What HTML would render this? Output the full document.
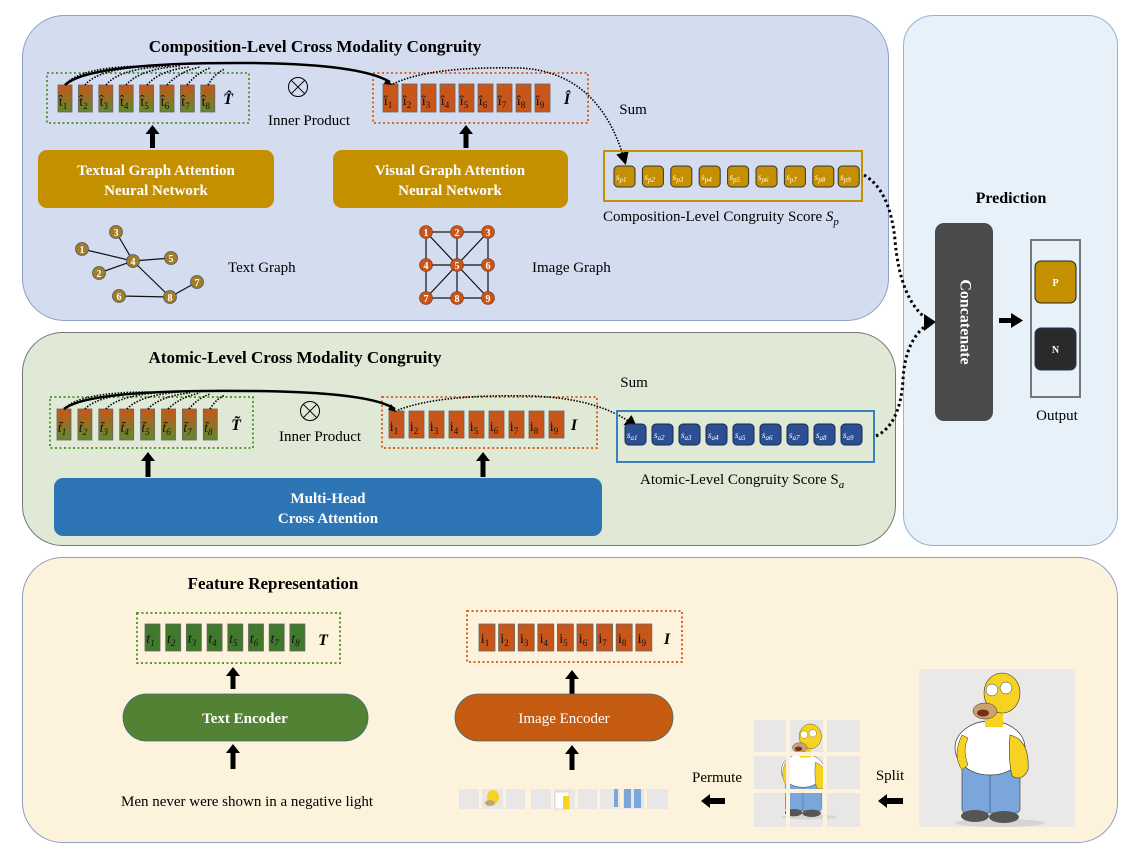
<!DOCTYPE html>
<html><head><meta charset="utf-8"><style>
html,body{margin:0;padding:0;background:#fff;}
svg{display:block;}
text{font-family:"Liberation Serif",serif;}
</style></head><body>
<svg width="1140" height="861" viewBox="0 0 1140 861" xmlns="http://www.w3.org/2000/svg">
<defs>
<linearGradient id="tg" x1="0" y1="0" x2="0" y2="1"><stop offset="0" stop-color="#c8561a"/><stop offset="1" stop-color="#5f8a2e"/></linearGradient>
<marker id="ah" markerWidth="8" markerHeight="8" refX="6" refY="4" orient="auto"><path d="M0,0 L8,4 L0,8 z" fill="#000"/></marker>
<marker id="ah2" markerWidth="12" markerHeight="12" refX="9" refY="6" orient="auto"><path d="M0,0 L12,6 L0,12 z" fill="#000"/></marker>
<g id="homer">
  <ellipse cx="1000" cy="823" rx="45" ry="4" fill="#d8d4d4"/>
  <rect x="962" y="765" width="58" height="48" rx="4" fill="#7aa6dc" stroke="#333" stroke-width="0.6"/>
  <line x1="990" y1="772" x2="990" y2="812" stroke="#4a6fa3" stroke-width="1"/>
  <ellipse cx="975" cy="816" rx="14" ry="6" fill="#555"/>
  <ellipse cx="1004" cy="817" rx="15" ry="6" fill="#555"/>
  <ellipse cx="990" cy="748" rx="35" ry="27" fill="#fff" stroke="#333" stroke-width="0.7"/>
  <path d="M1010,735 Q1030,740 1028,770 Q1022,782 1012,776 Q1008,760 1010,735 z" fill="#f6d322" stroke="#333" stroke-width="0.6"/>
  <path d="M962,735 Q952,755 962,770 L968,765 Q962,750 968,738 z" fill="#f6d322" stroke="#333" stroke-width="0.5"/>
  <rect x="985" y="705" width="18" height="22" fill="#f6d322"/>
  <ellipse cx="1002" cy="693" rx="18" ry="20" fill="#f6d322" stroke="#333" stroke-width="0.6"/>
  <ellipse cx="985" cy="711" rx="12" ry="8" fill="#c8a36c" stroke="#333" stroke-width="0.5"/>
  <ellipse cx="983" cy="713" rx="6" ry="3.5" fill="#7a2b1a"/>
  <circle cx="992" cy="690" r="6" fill="#fff" stroke="#333" stroke-width="0.5"/>
  <circle cx="1006" cy="688" r="6" fill="#fff" stroke="#333" stroke-width="0.5"/>
</g>
</defs>

<!-- Panels -->
<rect x="22.5" y="15.5" width="866" height="305" rx="42" fill="#d4dcef" stroke="#8fa0c4" stroke-width="1"/>
<rect x="903.5" y="15.5" width="214" height="530" rx="30" fill="#e6f1fa" stroke="#9ab3c9" stroke-width="1"/>
<rect x="22.5" y="332.5" width="873" height="213" rx="40" fill="#dfe9d6" stroke="#777" stroke-width="1"/>
<rect x="22.5" y="557.5" width="1095" height="285" rx="40" fill="#fdf3dc" stroke="#8fa0c4" stroke-width="1"/>

<!-- ===== TOP PANEL ===== -->
<text x="315" y="52" font-size="17" font-weight="bold" text-anchor="middle">Composition-Level Cross Modality Congruity</text>
<rect x="47" y="73" width="202" height="50" fill="none" stroke="#5a9a3a" stroke-width="2" stroke-dasharray="2 2.5"/>
<g stroke="#666" stroke-width="0.8" fill="url(#tg)">
<rect x="58" y="85" width="14" height="27"/><rect x="78.4" y="85" width="14" height="27"/><rect x="98.8" y="85" width="14" height="27"/><rect x="119.2" y="85" width="14" height="27"/><rect x="139.6" y="85" width="14" height="27"/><rect x="160" y="85" width="14" height="27"/><rect x="180.4" y="85" width="14" height="27"/><rect x="200.8" y="85" width="14" height="27"/>
</g>
<g font-size="14" fill="#111" text-anchor="middle">
<text x="63" y="106">t̂<tspan font-size="9" dy="3">1</tspan></text>
<text x="83.4" y="106">t̂<tspan font-size="9" dy="3">2</tspan></text>
<text x="103.8" y="106">t̂<tspan font-size="9" dy="3">3</tspan></text>
<text x="124.2" y="106">t̂<tspan font-size="9" dy="3">4</tspan></text>
<text x="144.6" y="106">t̂<tspan font-size="9" dy="3">5</tspan></text>
<text x="165" y="106">t̂<tspan font-size="9" dy="3">6</tspan></text>
<text x="185.4" y="106">t̂<tspan font-size="9" dy="3">7</tspan></text>
<text x="205.8" y="106">t̂<tspan font-size="9" dy="3">8</tspan></text>
</g>
<text x="228" y="104" font-size="16" font-weight="bold" font-style="italic" text-anchor="middle">T̂</text>

<circle cx="298" cy="87" r="9.5" fill="none" stroke="#000" stroke-width="1"/>
<path d="M291.3,80.3 L304.7,93.7 M304.7,80.3 L291.3,93.7" stroke="#000" stroke-width="1"/>
<text x="309" y="125" font-size="15" text-anchor="middle">Inner Product</text>

<rect x="373" y="73" width="215" height="50" fill="none" stroke="#d9662a" stroke-width="2" stroke-dasharray="2 2.5"/>
<g stroke="#666" stroke-width="0.8" fill="#c8561a">
<rect x="383" y="84" width="15" height="28"/><rect x="402" y="84" width="15" height="28"/><rect x="421" y="84" width="15" height="28"/><rect x="440" y="84" width="15" height="28"/><rect x="459" y="84" width="15" height="28"/><rect x="478" y="84" width="15" height="28"/><rect x="497" y="84" width="15" height="28"/><rect x="516" y="84" width="15" height="28"/><rect x="535" y="84" width="15" height="28"/>
</g>
<g font-size="14" fill="#111" text-anchor="middle">
<text x="388" y="105">î<tspan font-size="9" dy="3">1</tspan></text>
<text x="407" y="105">î<tspan font-size="9" dy="3">2</tspan></text>
<text x="426" y="105">î<tspan font-size="9" dy="3">3</tspan></text>
<text x="445" y="105">î<tspan font-size="9" dy="3">4</tspan></text>
<text x="464" y="105">î<tspan font-size="9" dy="3">5</tspan></text>
<text x="483" y="105">î<tspan font-size="9" dy="3">6</tspan></text>
<text x="502" y="105">î<tspan font-size="9" dy="3">7</tspan></text>
<text x="521" y="105">î<tspan font-size="9" dy="3">8</tspan></text>
<text x="540" y="105">î<tspan font-size="9" dy="3">9</tspan></text>
</g>
<text x="567" y="104" font-size="16" font-weight="bold" font-style="italic" text-anchor="middle">Î</text>

<!-- arcs top -->
<g fill="none" stroke="#000" stroke-width="1.6" stroke-dasharray="1.5 1.5">
<path d="M65,85 Q80,66 150,66"/><path d="M85,85 Q100,67 160,66"/><path d="M106,85 Q120,68 170,66"/><path d="M126,85 Q140,69 180,66"/><path d="M147,85 Q160,70 190,67"/><path d="M167,85 Q180,71 200,67"/><path d="M187,85 Q198,72 210,68"/><path d="M208,85 Q215,73 225,69"/>
<path d="M393,84 Q430,66 520,68 Q600,72 625,162" marker-end="url(#ah)"/>
</g>
<path d="M65,85 Q90,62 250,63 Q360,64 390,82" fill="none" stroke="#000" stroke-width="2.5"/>
<path d="M386,79 L393,85 L384,84 z" fill="#000"/>

<text x="633" y="114" font-size="15" text-anchor="middle">Sum</text>

<!-- arrows up -->
<g fill="#000">
<rect x="150" y="133" width="5" height="15"/><path d="M145.5,134 L152.5,125 L159.5,134 z"/>
<rect x="463.5" y="133" width="5" height="15"/><path d="M459,134 L466,125 L473,134 z"/>
</g>

<rect x="38" y="150" width="236" height="58" rx="9" fill="#c49000"/>
<text x="156" y="175" font-size="15" font-weight="bold" fill="#fff" text-anchor="middle">Textual Graph Attention</text>
<text x="156" y="195" font-size="15" font-weight="bold" fill="#fff" text-anchor="middle">Neural Network</text>
<rect x="333" y="150" width="235" height="58" rx="9" fill="#c49000"/>
<text x="450" y="175" font-size="15" font-weight="bold" fill="#fff" text-anchor="middle">Visual Graph Attention</text>
<text x="450" y="195" font-size="15" font-weight="bold" fill="#fff" text-anchor="middle">Neural Network</text>

<!-- text graph -->
<g stroke="#111" stroke-width="1.2">
<line x1="82" y1="249" x2="133" y2="261"/><line x1="116" y1="232" x2="133" y2="261"/><line x1="133" y1="261" x2="171" y2="258"/><line x1="99" y1="273" x2="133" y2="261"/><line x1="133" y1="261" x2="170" y2="297"/><line x1="119" y1="296" x2="170" y2="297"/><line x1="170" y1="297" x2="197" y2="282"/>
</g>
<g fill="#a07d28" stroke="#555" stroke-width="0.8">
<circle cx="82" cy="249" r="6.5"/><circle cx="116" cy="232" r="6.5"/><circle cx="133" cy="261" r="6.5"/><circle cx="171" cy="258" r="6.5"/><circle cx="99" cy="273" r="6.5"/><circle cx="119" cy="296" r="6.5"/><circle cx="170" cy="297" r="6.5"/><circle cx="197" cy="282" r="6.5"/>
</g>
<g font-size="10" fill="#fff" font-weight="bold" text-anchor="middle">
<text x="82" y="253">1</text><text x="116" y="236">3</text><text x="133" y="265">4</text><text x="171" y="262">5</text><text x="99" y="277">2</text><text x="119" y="300">6</text><text x="170" y="301">8</text><text x="197" y="286">7</text>
</g>
<text x="228" y="272" font-size="15">Text Graph</text>

<!-- image graph -->
<g stroke="#111" stroke-width="1.2" fill="none">
<rect x="426" y="232" width="62" height="66"/>
<line x1="457" y1="232" x2="457" y2="298"/><line x1="426" y1="265" x2="488" y2="265"/>
<line x1="426" y1="232" x2="488" y2="298"/><line x1="488" y1="232" x2="426" y2="298"/>
</g>
<g fill="#c8561a" stroke="#7a3010" stroke-width="0.6">
<circle cx="426" cy="232" r="6.5"/><circle cx="457" cy="232" r="6.5"/><circle cx="488" cy="232" r="6.5"/>
<circle cx="426" cy="265" r="6.5"/><circle cx="457" cy="265" r="6.5"/><circle cx="488" cy="265" r="6.5"/>
<circle cx="426" cy="298" r="6.5"/><circle cx="457" cy="298" r="6.5"/><circle cx="488" cy="298" r="6.5"/>
</g>
<g font-size="10" fill="#fff" font-weight="bold" text-anchor="middle">
<text x="426" y="236">1</text><text x="457" y="236">2</text><text x="488" y="236">3</text>
<text x="426" y="269">4</text><text x="457" y="269">5</text><text x="488" y="269">6</text>
<text x="426" y="302">7</text><text x="457" y="302">8</text><text x="488" y="302">9</text>
</g>
<text x="532" y="272" font-size="15">Image Graph</text>

<!-- composition score -->
<rect x="604" y="151" width="258" height="50" fill="none" stroke="#c49000" stroke-width="2"/>
<g fill="#c49000" stroke="#333" stroke-width="1">
<rect x="614" y="166" width="21" height="21" rx="4"/><rect x="642.4" y="166" width="21" height="21" rx="4"/><rect x="670.8" y="166" width="21" height="21" rx="4"/><rect x="699.2" y="166" width="21" height="21" rx="4"/><rect x="727.6" y="166" width="21" height="21" rx="4"/><rect x="756" y="166" width="21" height="21" rx="4"/><rect x="784.4" y="166" width="21" height="21" rx="4"/><rect x="812.8" y="166" width="21" height="21" rx="4"/><rect x="841.2" y="166" width="21" height="21" rx="4" transform="translate(-3,0)"/>
</g>
<g font-size="9" fill="#fff" font-style="italic">
<text x="616" y="180">s<tspan font-size="7" dy="2">p1</tspan></text>
<text x="644.4" y="180">s<tspan font-size="7" dy="2">p2</tspan></text>
<text x="672.8" y="180">s<tspan font-size="7" dy="2">p3</tspan></text>
<text x="701.2" y="180">s<tspan font-size="7" dy="2">p4</tspan></text>
<text x="729.6" y="180">s<tspan font-size="7" dy="2">p5</tspan></text>
<text x="758" y="180">s<tspan font-size="7" dy="2">p6</tspan></text>
<text x="786.4" y="180">s<tspan font-size="7" dy="2">p7</tspan></text>
<text x="814.8" y="180">s<tspan font-size="7" dy="2">p8</tspan></text>
<text x="840.2" y="180">s<tspan font-size="7" dy="2">p9</tspan></text>
</g>
<text x="603" y="221" font-size="15">Composition-Level Congruity Score <tspan font-style="italic">S</tspan><tspan font-style="italic" font-size="11" dy="4">p</tspan></text>

<!-- dotted connectors to concatenate -->
<g fill="none" stroke="#000" stroke-width="3" stroke-dasharray="2.5 3">
<path d="M864,175 Q890,190 895,240 Q900,300 928,320"/>
<path d="M876,436 Q900,425 903,380 Q905,340 928,324"/>
</g>
<path d="M924,314 L936,322 L924,331 z" fill="#000"/>

<!-- ===== PREDICTION ===== -->
<text x="1011" y="203" font-size="16" font-weight="bold" text-anchor="middle">Prediction</text>
<rect x="935" y="223" width="58" height="198" rx="9" fill="#4a4a4a"/>
<text x="964" y="322" font-size="16" font-weight="bold" fill="#fff" text-anchor="middle" dominant-baseline="middle" transform="rotate(90 964 322)">Concatenate</text>
<rect x="999" y="318" width="13" height="5" fill="#000"/><path d="M1011,313 L1023,320.5 L1011,328 z" fill="#000"/>
<rect x="1031" y="240" width="49" height="157" fill="none" stroke="#777" stroke-width="2"/>
<rect x="1035" y="261" width="41" height="42" rx="6" fill="#c49000" stroke="#222" stroke-width="1"/>
<text x="1055.5" y="286" font-size="10" font-weight="bold" fill="#fff" text-anchor="middle">P</text>
<rect x="1035" y="328" width="41" height="42" rx="6" fill="#2a2a2a" stroke="#24365a" stroke-width="1"/>
<text x="1055.5" y="353" font-size="10" font-weight="bold" fill="#fff" text-anchor="middle">N</text>
<text x="1057" y="420" font-size="15" text-anchor="middle">Output</text>

<!-- ===== MIDDLE PANEL ===== -->
<text x="295" y="363" font-size="17" font-weight="bold" text-anchor="middle">Atomic-Level Cross Modality Congruity</text>
<rect x="50" y="397" width="203" height="51" fill="none" stroke="#5a9a3a" stroke-width="2" stroke-dasharray="2 2.5"/>
<g stroke="#666" stroke-width="0.8" fill="url(#tg)">
<rect x="57" y="409" width="14" height="31"/><rect x="77.9" y="409" width="14" height="31"/><rect x="98.8" y="409" width="14" height="31"/><rect x="119.7" y="409" width="14" height="31"/><rect x="140.6" y="409" width="14" height="31"/><rect x="161.5" y="409" width="14" height="31"/><rect x="182.4" y="409" width="14" height="31"/><rect x="203.3" y="409" width="14" height="31"/>
</g>
<g font-size="14" fill="#111" text-anchor="middle" font-style="italic">
<text x="62" y="432">t̃<tspan font-size="9" dy="3">1</tspan></text>
<text x="82.9" y="432">t̃<tspan font-size="9" dy="3">2</tspan></text>
<text x="103.8" y="432">t̃<tspan font-size="9" dy="3">3</tspan></text>
<text x="124.7" y="432">t̃<tspan font-size="9" dy="3">4</tspan></text>
<text x="145.6" y="432">t̃<tspan font-size="9" dy="3">5</tspan></text>
<text x="166.5" y="432">t̃<tspan font-size="9" dy="3">6</tspan></text>
<text x="187.4" y="432">t̃<tspan font-size="9" dy="3">7</tspan></text>
<text x="208.3" y="432">t̃<tspan font-size="9" dy="3">8</tspan></text>
</g>
<text x="236" y="430" font-size="16" font-weight="bold" font-style="italic" text-anchor="middle">T̃</text>
<circle cx="310" cy="411" r="9.5" fill="none" stroke="#000" stroke-width="1"/>
<path d="M303.3,404.3 L316.7,417.7 M316.7,404.3 L303.3,417.7" stroke="#000" stroke-width="1"/>
<text x="320" y="441" font-size="15" text-anchor="middle">Inner Product</text>

<rect x="382" y="397" width="215" height="51" fill="none" stroke="#d9662a" stroke-width="2" stroke-dasharray="2 2.5"/>
<g stroke="#666" stroke-width="0.8" fill="#c8561a">
<rect x="389" y="411" width="15" height="27"/><rect x="409" y="411" width="15" height="27"/><rect x="429" y="411" width="15" height="27"/><rect x="449" y="411" width="15" height="27"/><rect x="469" y="411" width="15" height="27"/><rect x="489" y="411" width="15" height="27"/><rect x="509" y="411" width="15" height="27"/><rect x="529" y="411" width="15" height="27"/><rect x="549" y="411" width="15" height="27"/>
</g>
<g font-size="14" fill="#111" text-anchor="middle">
<text x="394" y="431">i<tspan font-size="9" dy="3">1</tspan></text>
<text x="414" y="431">i<tspan font-size="9" dy="3">2</tspan></text>
<text x="434" y="431">i<tspan font-size="9" dy="3">3</tspan></text>
<text x="454" y="431">i<tspan font-size="9" dy="3">4</tspan></text>
<text x="474" y="431">i<tspan font-size="9" dy="3">5</tspan></text>
<text x="494" y="431">i<tspan font-size="9" dy="3">6</tspan></text>
<text x="514" y="431">i<tspan font-size="9" dy="3">7</tspan></text>
<text x="534" y="431">i<tspan font-size="9" dy="3">8</tspan></text>
<text x="554" y="431">i<tspan font-size="9" dy="3">9</tspan></text>
</g>
<text x="574" y="430" font-size="16" font-weight="bold" font-style="italic" text-anchor="middle">I</text>

<g fill="none" stroke="#000" stroke-width="1.6" stroke-dasharray="1.5 1.5">
<path d="M64,409 Q80,392 150,392"/><path d="M85,409 Q100,393 160,392"/><path d="M106,409 Q120,394 170,392"/><path d="M127,409 Q140,395 180,392"/><path d="M148,409 Q160,396 190,393"/><path d="M168,409 Q180,397 200,393"/><path d="M189,409 Q198,398 210,394"/><path d="M210,409 Q216,399 225,395"/>
<path d="M398,410 Q440,394 530,396 Q600,398 635,426" marker-end="url(#ah)"/>
</g>
<path d="M64,409 Q90,389 250,391 Q370,392 395,409" fill="none" stroke="#000" stroke-width="2.5"/>
<path d="M391,404 L397,412 L388,410 z" fill="#000"/>
<text x="634" y="387" font-size="15" text-anchor="middle">Sum</text>

<g fill="#000">
<rect x="145.5" y="460" width="5" height="17"/><path d="M141,461 L148,452 L155,461 z"/>
<rect x="480.5" y="460" width="5" height="17"/><path d="M476,461 L483,452 L490,461 z"/>
</g>
<rect x="54" y="478" width="548" height="58" rx="9" fill="#2e75b6"/>
<text x="328" y="503" font-size="15" font-weight="bold" fill="#fff" text-anchor="middle">Multi-Head</text>
<text x="328" y="523" font-size="15" font-weight="bold" fill="#fff" text-anchor="middle">Cross Attention</text>

<rect x="617" y="411" width="257" height="51" fill="none" stroke="#3a7fc0" stroke-width="2"/>
<g fill="#2c4f94" stroke="#1a2a4a" stroke-width="1">
<rect x="625" y="424" width="21" height="21" rx="4"/><rect x="652" y="424" width="21" height="21" rx="4"/><rect x="679" y="424" width="21" height="21" rx="4"/><rect x="706" y="424" width="21" height="21" rx="4"/><rect x="733" y="424" width="21" height="21" rx="4"/><rect x="760" y="424" width="21" height="21" rx="4"/><rect x="787" y="424" width="21" height="21" rx="4"/><rect x="814" y="424" width="21" height="21" rx="4"/><rect x="841" y="424" width="21" height="21" rx="4"/>
</g>
<g font-size="9" fill="#fff" font-style="italic">
<text x="627" y="438">s<tspan font-size="7" dy="2">a1</tspan></text>
<text x="654" y="438">s<tspan font-size="7" dy="2">a2</tspan></text>
<text x="681" y="438">s<tspan font-size="7" dy="2">a3</tspan></text>
<text x="708" y="438">s<tspan font-size="7" dy="2">a4</tspan></text>
<text x="735" y="438">s<tspan font-size="7" dy="2">a5</tspan></text>
<text x="762" y="438">s<tspan font-size="7" dy="2">a6</tspan></text>
<text x="789" y="438">s<tspan font-size="7" dy="2">a7</tspan></text>
<text x="816" y="438">s<tspan font-size="7" dy="2">a8</tspan></text>
<text x="843" y="438">s<tspan font-size="7" dy="2">a9</tspan></text>
</g>
<text x="640" y="484" font-size="15">Atomic-Level Congruity Score S<tspan font-style="italic" font-size="11" dy="4">a</tspan></text>

<!-- ===== BOTTOM PANEL ===== -->
<text x="273" y="589" font-size="17" font-weight="bold" text-anchor="middle">Feature Representation</text>
<rect x="137" y="613" width="203" height="50" fill="none" stroke="#5a9a3a" stroke-width="2" stroke-dasharray="2 2.5"/>
<g fill="#3f7a2c" stroke="#666" stroke-width="0.8">
<rect x="145" y="624" width="15" height="27"/><rect x="165.7" y="624" width="15" height="27"/><rect x="186.4" y="624" width="15" height="27"/><rect x="207.1" y="624" width="15" height="27"/><rect x="227.8" y="624" width="15" height="27"/><rect x="248.5" y="624" width="15" height="27"/><rect x="269.2" y="624" width="15" height="27"/><rect x="289.9" y="624" width="15" height="27"/>
</g>
<g font-size="14" fill="#111" text-anchor="middle" font-style="italic">
<text x="150.5" y="643">t<tspan font-size="9" dy="3">1</tspan></text>
<text x="171.2" y="643">t<tspan font-size="9" dy="3">2</tspan></text>
<text x="191.9" y="643">t<tspan font-size="9" dy="3">3</tspan></text>
<text x="212.6" y="643">t<tspan font-size="9" dy="3">4</tspan></text>
<text x="233.3" y="643">t<tspan font-size="9" dy="3">5</tspan></text>
<text x="254" y="643">t<tspan font-size="9" dy="3">6</tspan></text>
<text x="274.7" y="643">t<tspan font-size="9" dy="3">7</tspan></text>
<text x="295.4" y="643">t<tspan font-size="9" dy="3">8</tspan></text>
</g>
<text x="323" y="645" font-size="16" font-weight="bold" font-style="italic" text-anchor="middle">T</text>

<rect x="467" y="611" width="215" height="51" fill="none" stroke="#d9662a" stroke-width="2" stroke-dasharray="2 2.5"/>
<g stroke="#666" stroke-width="0.8" fill="#c8561a">
<rect x="479" y="624" width="16" height="27"/><rect x="498.6" y="624" width="16" height="27"/><rect x="518.2" y="624" width="16" height="27"/><rect x="537.8" y="624" width="16" height="27"/><rect x="557.4" y="624" width="16" height="27"/><rect x="577" y="624" width="16" height="27"/><rect x="596.6" y="624" width="16" height="27"/><rect x="616.2" y="624" width="16" height="27"/><rect x="635.8" y="624" width="16" height="27"/>
</g>
<g font-size="14" fill="#111" text-anchor="middle">
<text x="485" y="643">i<tspan font-size="9" dy="3">1</tspan></text>
<text x="504.6" y="643">i<tspan font-size="9" dy="3">2</tspan></text>
<text x="524.2" y="643">i<tspan font-size="9" dy="3">3</tspan></text>
<text x="543.8" y="643">i<tspan font-size="9" dy="3">4</tspan></text>
<text x="563.4" y="643">i<tspan font-size="9" dy="3">5</tspan></text>
<text x="583" y="643">i<tspan font-size="9" dy="3">6</tspan></text>
<text x="602.6" y="643">i<tspan font-size="9" dy="3">7</tspan></text>
<text x="622.2" y="643">i<tspan font-size="9" dy="3">8</tspan></text>
<text x="641.8" y="643">i<tspan font-size="9" dy="3">9</tspan></text>
</g>
<text x="667" y="644" font-size="16" font-weight="bold" font-style="italic" text-anchor="middle">I</text>

<g fill="#000">
<rect x="230.5" y="675" width="5" height="14"/><path d="M226,676 L233,667 L240,676 z"/>
<rect x="230.5" y="752" width="5" height="17"/><path d="M226,753 L233,744 L240,753 z"/>
<rect x="569.5" y="678" width="5" height="16"/><path d="M565,679 L572,670 L579,679 z"/>
<rect x="569.5" y="753" width="5" height="17"/><path d="M565,754 L572,745 L579,754 z"/>
</g>
<rect x="123" y="694" width="245" height="47" rx="23.5" fill="#548235" stroke="#3f6a7f" stroke-width="0.8"/>
<text x="245" y="723" font-size="15" font-weight="bold" fill="#fff" text-anchor="middle">Text Encoder</text>
<rect x="455" y="694" width="218" height="47" rx="23.5" fill="#c55a11" stroke="#3f6a7f" stroke-width="0.8"/>
<text x="564" y="723" font-size="15" fill="#fff" text-anchor="middle">Image Encoder</text>
<text x="247" y="806" font-size="15" text-anchor="middle">Men never were shown in a negative light</text>

<!-- permuted strip -->
<g fill="#e9e6e6">
<rect x="459" y="789" width="20" height="20"/><rect x="482" y="789" width="21" height="20"/><rect x="506" y="789" width="19" height="20"/>
<rect x="531" y="789" width="20" height="20"/><rect x="554" y="789" width="21" height="20"/><rect x="578" y="789" width="19" height="20"/>
<rect x="600" y="789" width="20" height="20"/><rect x="623" y="789" width="21" height="20"/><rect x="647" y="789" width="21" height="20"/>
</g>
<ellipse cx="493" cy="797" rx="6" ry="7" fill="#f6d322"/><ellipse cx="490" cy="803" rx="5" ry="3" fill="#c8a36c"/>
<rect x="555" y="792" width="14" height="17" fill="#fff" stroke="#aaa" stroke-width="0.4"/><rect x="563" y="796" width="6" height="13" fill="#f6d322"/>
<rect x="624" y="789" width="7" height="19" fill="#7aa6dc"/><rect x="634" y="789" width="7" height="19" fill="#7aa6dc"/><rect x="614" y="789" width="4" height="18" fill="#7aa6dc"/>

<text x="717" y="782" font-size="15" text-anchor="middle">Permute</text>
<rect x="709" y="798" width="16" height="6" fill="#000"/><path d="M710,794 L701,801 L710,808 z" fill="#000"/>
<text x="890" y="780" font-size="15" text-anchor="middle">Split</text>
<rect x="886" y="798" width="17" height="6" fill="#000"/><path d="M887,794 L878,801 L887,808 z" fill="#000"/>

<!-- split grid -->
<rect x="754" y="720" width="106" height="107" fill="#e9e6e6"/>
<use href="#homer" transform="translate(806,773) scale(0.62) translate(-995,-752)"/>
<g fill="#fdf3dc">
<rect x="786" y="718" width="4" height="111"/><rect x="823" y="718" width="4" height="111"/>
<rect x="752" y="752" width="110" height="4"/><rect x="752" y="789" width="110" height="4"/>
</g>

<!-- full image -->
<rect x="919" y="669" width="156" height="158" fill="#ebe8e8"/>
<use href="#homer"/>
</svg>
</body></html>
